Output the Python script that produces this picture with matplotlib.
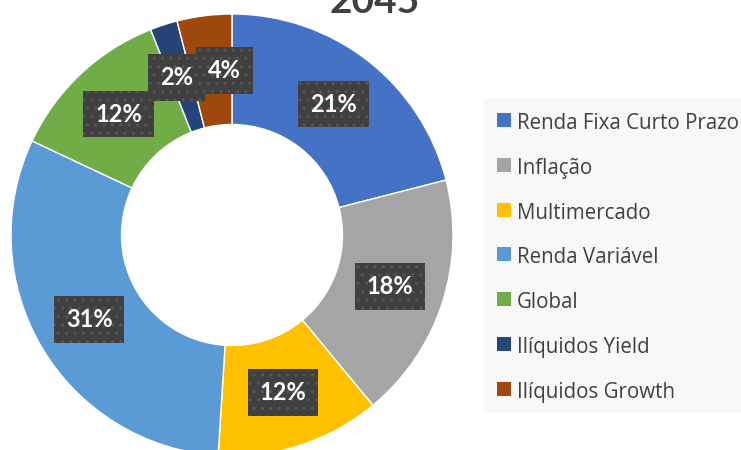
import matplotlib
matplotlib.use("Agg")
import matplotlib.pyplot as plt
from matplotlib.patches import Rectangle
import numpy as np

categories = ["Renda Fixa Curto Prazo", "Inflação", "Multimercado", "Renda Variável",
              "Global", "Ilíquidos Yield", "Ilíquidos Growth"]
values = [21, 18, 12, 31, 12, 2, 4]
labels = ["21%", "18%", "12%", "31%", "12%", "2%", "4%"]
colors = ["#4472C4", "#A5A5A5", "#FFC000", "#5B9BD5", "#70AD47", "#264478", "#9E480E"]
title = "2045"

plt.rcParams['font.family'] = ['Lato', 'DejaVu Sans']
W, H = 741, 450
fig = plt.figure(figsize=(W/100, H/100), dpi=100)
fig.patch.set_facecolor('white')

cx, cy, R = 232, 235, 221
ax = fig.add_axes([(cx-R)/W, (H-cy-R)/H, 2*R/W, 2*R/H])
wedges, _ = ax.pie(values, colors=colors, startangle=90, counterclock=False,
                   wedgeprops=dict(width=0.5, edgecolor='white', linewidth=1))
ax.set_xlim(-1, 1)
ax.set_ylim(-1, 1)
ax.axis('off')

nudges = {5: (-0.02, 0.0), 6: (0.06, 0.0)}
for i, (w, lab) in enumerate(zip(wedges, labels)):
    ang = np.deg2rad((w.theta1 + w.theta2) / 2)
    r = 0.75
    x, y = r*np.cos(ang), r*np.sin(ang)
    dx, dy = nudges.get(i, (0, 0))
    ax.text(x+dx, y+dy, lab, ha='center', va='center', color='white',
            fontsize=17, fontweight='bold', zorder=5,
            bbox=dict(boxstyle='square,pad=0.5', facecolor='#404040',
                      edgecolor='#565656', hatch='..', linewidth=0))

# legend (drawn in figure pixel coordinates)
def fx(px): return px / W
def fy(py): return 1 - py / H

fig.patches.append(Rectangle((fx(484), fy(413)), fx(741) - fx(484) + 0.01, (413 - 98) / H,
                             transform=fig.transFigure, facecolor='#F8F8F8',
                             edgecolor='none', zorder=1))
row0, pitch, msz = 120, 44.8, 14
for i, (cat, col) in enumerate(zip(categories, colors)):
    yc = row0 + pitch * i
    fig.patches.append(Rectangle((fx(497), fy(yc + msz/2)), msz / W, msz / H,
                                 transform=fig.transFigure, facecolor=col,
                                 edgecolor='none', zorder=2))
    fig.text(fx(517), fy(yc + 1), cat, ha='left', va='center_baseline',
             fontsize=14.8, color='#404040', family=['Open Sans', 'DejaVu Sans'],
             zorder=3)

fig.text(0.505, 1-13/H, title, ha='center', va='baseline', fontsize=28,
         fontweight='bold', color='#404040')

fig.savefig('out.png', dpi=100)
